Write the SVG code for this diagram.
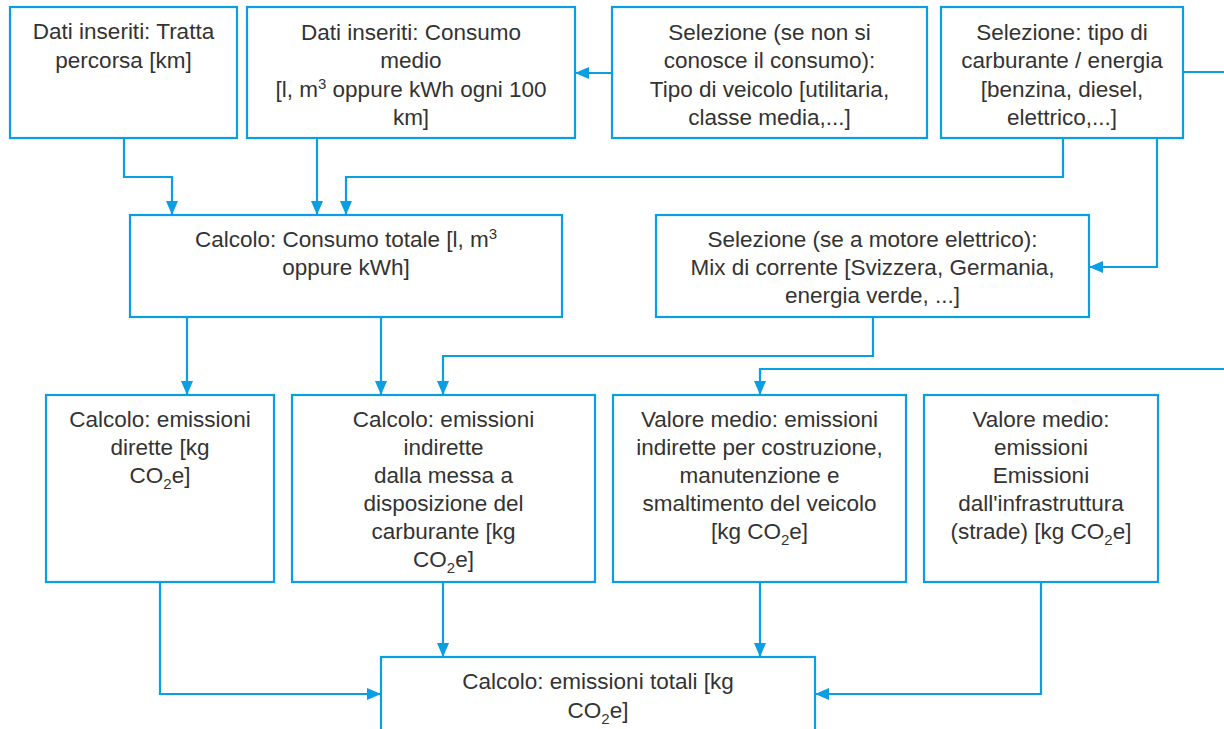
<svg xmlns="http://www.w3.org/2000/svg" width="1224" height="729" viewBox="0 0 1224 729">
<style>
.box{fill:#fff;stroke:#0a9fe3;stroke-width:2.2}
.c{fill:none;stroke:#0a9fe3;stroke-width:2.2}
text{font-family:"Liberation Sans",Arial,sans-serif;font-size:22.5px;fill:#333;text-anchor:middle}
.s{font-size:15px}
</style>
<defs>
<marker id="a" markerUnits="userSpaceOnUse" markerWidth="14" markerHeight="12" refX="14" refY="6" orient="auto">
<path d="M0,0 L14,6 L0,12 Z" fill="#0a9fe3"/>
</marker>
</defs>
<rect width="1224" height="729" fill="#fff"/>
<g id="connectors" class="c" marker-end="url(#a)">
<polyline points="124,138 124,177 172,177 172,215"/>
<polyline points="317,138 317,215"/>
<polyline points="1063,138 1063,177 346,177 346,215"/>
<polyline points="612,73 575,73"/>
<polyline points="1183,72 1230,72" marker-end="none"/>
<polyline points="1157,138 1157,267 1089,267"/>
<polyline points="187,317 187,395"/>
<polyline points="381,317 381,395"/>
<polyline points="873,317 873,356 443,356 443,395"/>
<polyline points="1230,369 760,369 760,395"/>
<polyline points="160,582 160,694 381,694"/>
<polyline points="443,582 443,657"/>
<polyline points="760,582 760,657"/>
<polyline points="1041,582 1041,694 815,694"/>
</g>
<g id="n1"><rect class="box" x="10" y="7" width="227" height="131"/>
<text x="123.5" y="39">Dati inseriti: Tratta</text><text x="123.5" y="68">percorsa [km]</text></g>
<g id="n2"><rect class="box" x="247" y="7" width="328" height="131"/>
<text x="411" y="40">Dati inseriti: Consumo</text><text x="411" y="68">medio</text>
<text x="411" y="97">[l, m<tspan class="s" dy="-8">3</tspan><tspan dy="8"> oppure kWh ogni 100</tspan></text><text x="411" y="125">km]</text></g>
<g id="n3"><rect class="box" x="612" y="7" width="315" height="131"/>
<text x="769.5" y="40">Selezione (se non si</text><text x="769.5" y="68">conosce il consumo):</text>
<text x="769.5" y="97">Tipo di veicolo [utilitaria,</text><text x="769.5" y="125">classe media,...]</text></g>
<g id="n4"><rect class="box" x="941" y="7" width="242" height="131"/>
<text x="1062" y="40">Selezione: tipo di</text><text x="1062" y="68">carburante / energia</text>
<text x="1062" y="97">[benzina, diesel,</text><text x="1062" y="125">elettrico,...]</text></g>
<g id="n5"><rect class="box" x="130" y="215" width="432" height="102"/>
<text x="346" y="247">Calcolo: Consumo totale [l, m<tspan class="s" dy="-8">3</tspan></text><text x="346" y="275">oppure kWh]</text></g>
<g id="n6"><rect class="box" x="656" y="215" width="433" height="102"/>
<text x="872.5" y="247">Selezione (se a motore elettrico):</text>
<text x="872.5" y="275">Mix di corrente [Svizzera, Germania,</text>
<text x="872.5" y="303">energia verde, ...]</text></g>
<g id="n7"><rect class="box" x="46" y="395" width="228" height="187"/>
<text x="160" y="427">Calcolo: emissioni</text><text x="160" y="455">dirette [kg</text>
<text x="160" y="483">CO<tspan class="s" dy="6">2</tspan><tspan dy="-6">e]</tspan></text></g>
<g id="n8"><rect class="box" x="292" y="395" width="303" height="187"/>
<text x="443.5" y="427">Calcolo: emissioni</text><text x="443.5" y="455">indirette</text>
<text x="443.5" y="483">dalla messa a</text><text x="443.5" y="511">disposizione del</text>
<text x="443.5" y="539">carburante [kg</text>
<text x="443.5" y="567">CO<tspan class="s" dy="6">2</tspan><tspan dy="-6">e]</tspan></text></g>
<g id="n9"><rect class="box" x="613" y="395" width="293" height="187"/>
<text x="759.5" y="427">Valore medio: emissioni</text><text x="759.5" y="455">indirette per costruzione,</text>
<text x="759.5" y="483">manutenzione e</text><text x="759.5" y="511">smaltimento del veicolo</text>
<text x="759.5" y="539">[kg CO<tspan class="s" dy="6">2</tspan><tspan dy="-6">e]</tspan></text></g>
<g id="n10"><rect class="box" x="924" y="395" width="234" height="187"/>
<text x="1041" y="427">Valore medio:</text><text x="1041" y="455">emissioni</text>
<text x="1041" y="483">Emissioni</text><text x="1041" y="511">dall'infrastruttura</text>
<text x="1041" y="539">(strade) [kg CO<tspan class="s" dy="6">2</tspan><tspan dy="-6">e]</tspan></text></g>
<g id="n11"><rect class="box" x="381" y="657" width="434" height="90"/>
<text x="598" y="689">Calcolo: emissioni totali [kg</text>
<text x="598" y="718">CO<tspan class="s" dy="6">2</tspan><tspan dy="-6">e]</tspan></text></g>
</svg>
